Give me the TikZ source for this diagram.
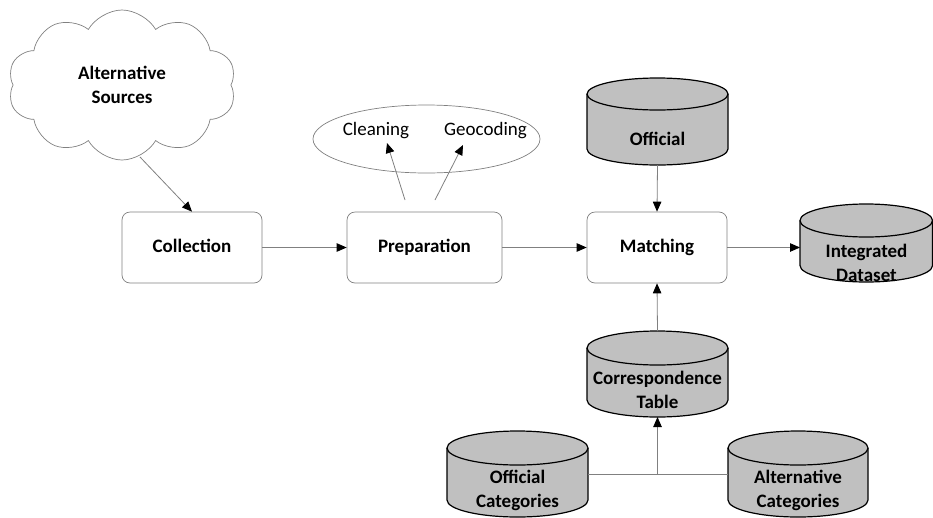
\documentclass[tikz,border=0pt]{standalone}
\usepackage{fontspec}
\setmainfont{Carlito}
\usetikzlibrary{shapes.geometric,shapes.symbols,arrows.meta}
\definecolor{lgray}{RGB}{128,128,128}
\definecolor{cylgray}{RGB}{192,192,192}
\newcommand{\bigsz}{\fontsize{19}{24}\selectfont}
\newcommand{\dbcyl}[6]{% name, x0, x1, ytop, ybottom, ry
  \pgfmathsetmacro{\cxx}{(#2+#3)/2}
  \pgfmathsetmacro{\rxx}{(#3-#2)/2}
  \pgfmathsetmacro{\cyy}{(#4+#5)/2}
  \pgfmathsetmacro{\www}{#3-#2}
  \pgfmathsetmacro{\hhh}{#5-#4}
  \filldraw[cylline] (#2,#4+#6) -- (#2,#5-#6)
     arc[start angle=180,end angle=0,x radius=\rxx,y radius=#6]
     -- (#3,#4+#6)
     arc[start angle=0,end angle=-180,x radius=\rxx,y radius=#6] -- cycle;
  \draw[cylline,fill=none] (#2,#4+#6) arc[start angle=180,end angle=0,x radius=\rxx,y radius=#6];
  \node[inner sep=0pt,outer sep=0pt,minimum width=\www pt,minimum height=\hhh pt] (#1) at (\cxx,\cyy) {};
}
\tikzset{
  cylline/.style={draw=black,line width=1.2pt,fill=cylgray},
  procbox/.style={draw=lgray,line width=0.7pt,fill=white,rounded corners=8pt,
    minimum width=140pt,minimum height=71pt,inner sep=0pt,font=\bigsz\bfseries,
    text height=13pt,text depth=4pt},
  conn/.style={draw=lgray,line width=0.8pt,-{Triangle[length=10pt,width=8.5pt,color=black]}},
  plainline/.style={draw=lgray,line width=0.8pt},
  lbl/.style={align=center,inner sep=0pt,font=\bigsz\bfseries},
  plbl/.style={inner sep=0pt,font=\bigsz,text height=13pt,text depth=4pt},
}
\begin{document}
\begin{tikzpicture}[x=1pt,y=-1pt]
\useasboundingbox (0,0) rectangle (933,517);
% cloud
\node[cloud,cloud puffs=10,cloud puff arc=120,aspect=1.5,draw=lgray,line width=0.7pt,
  minimum width=228pt,minimum height=150pt,inner sep=0pt,align=center,font=\bigsz\bfseries] (src) at (122,85) {Alternative\\Sources};
\coordinate (srcout) at (140,157);
% process boxes
\node[procbox] (coll) at (192,247.5) {Collection};
\node[procbox,minimum width=155pt] (prep) at (424.5,247.5) {Preparation};
\node[procbox] (match) at (657,247.5) {Matching};
% preparation ellipse
\node[ellipse,draw=lgray,line width=0.7pt,minimum width=227pt,minimum height=68pt] (prepell) at (426.5,139) {};
\node[plbl] (clean) at (376,131) {Cleaning};
\node[plbl] (geo) at (485.5,131) {Geocoding};
\coordinate (p1) at (405,200);
\coordinate (p2) at (435,200);
\coordinate (t1) at (387,143);
\coordinate (t2) at (463,145);
% cylinders
\dbcyl{off}{587}{728}{78}{165}{16}
\node[lbl] (offt) at (657.5,139) {Official};
\dbcyl{integ}{800}{932.5}{204}{282}{16.5}
\node[lbl] (integt) at (866.5,263) {Integrated\\Dataset};
\dbcyl{corr}{587}{728}{331}{417}{17}
\node[lbl] (corrt) at (657.5,390) {Correspondence\\Table};
\dbcyl{offcat}{447}{588}{431}{517}{17}
\node[lbl] (offcatt) at (517.5,490) {Official\\Categories};
\dbcyl{altcat}{728}{868}{431}{517}{17}
\node[lbl] (altcatt) at (798,490) {Alternative\\Categories};
% connectors
\draw[conn] (srcout) -- (coll.north);
\draw[conn] (coll.east) -- (prep.west);
\draw[conn] (prep.east) -- (match.west);
\draw[conn] (match.east) -- (match.east -| integ.west);
\draw[conn] (off.south) -- (match.north);
\draw[conn] (corr.north) -- (match.south);
\draw[conn] (p1) -- (t1);
\draw[conn] (p2) -- (t2);
\coordinate (junc) at (657.5,474);
\draw[plainline] (offcat.east) -- (altcat.west);
\draw[conn] (junc) -- (corr.south);
\end{tikzpicture}
\end{document}
